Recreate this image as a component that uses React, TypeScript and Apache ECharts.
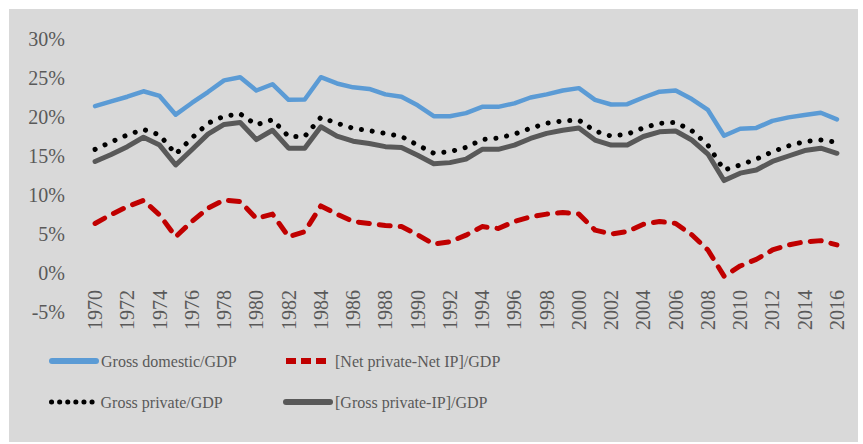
import React, { useEffect, useRef } from "react";
import * as echarts from "echarts";

const years: string[] = [];
for (let y = 1970; y <= 2016; y++) years.push(String(y));

const grossDomestic = [
  21.4, 22.0, 22.6, 23.3, 22.7, 20.3, 21.8, 23.2, 24.7, 25.1,
  23.4, 24.2, 22.2, 22.25, 25.1, 24.3, 23.8, 23.6, 22.9, 22.6,
  21.5, 20.1, 20.1, 20.5, 21.3, 21.3, 21.75, 22.5, 22.9, 23.4,
  23.7, 22.2, 21.6, 21.65, 22.5, 23.25, 23.4, 22.3, 20.9, 17.6,
  18.5, 18.6, 19.5, 19.95, 20.25, 20.55, 19.7,
];

const netPrivateNetIP = [
  6.35, 7.5, 8.5, 9.3, 7.45, 4.65, 6.6, 8.3, 9.35, 9.15,
  7.0, 7.55, 4.65, 5.3, 8.6, 7.55, 6.6, 6.35, 6.1, 5.95,
  4.9, 3.7, 4.0, 4.85, 5.95, 5.7, 6.6, 7.2, 7.55, 7.75,
  7.55, 5.5, 5.0, 5.3, 6.25, 6.6, 6.35, 4.9, 2.95, -0.4,
  0.9, 1.75, 2.95, 3.6, 4.0, 4.15, 3.6,
];

const grossPrivate = [
  15.85, 16.8, 17.7, 18.4, 17.7, 15.25, 17.3, 19.2, 20.1, 20.4,
  19.0, 19.65, 17.5, 17.5, 19.95, 19.2, 18.55, 18.25, 17.9, 17.5,
  16.4, 15.35, 15.55, 16.1, 17.1, 17.3, 17.8, 18.55, 19.2, 19.5,
  19.6, 18.2, 17.55, 17.8, 18.6, 19.2, 19.3, 18.25, 16.4, 13.2,
  13.85, 14.6, 15.55, 16.3, 16.85, 17.05, 16.75,
];

const grossPrivateIP = [
  14.3, 15.2, 16.2, 17.4, 16.4, 13.85, 15.8, 17.8, 19.05, 19.3,
  17.1, 18.3, 16.0, 16.0, 18.75, 17.55, 16.9, 16.6, 16.2, 16.1,
  15.1, 14.0, 14.15, 14.6, 15.85, 15.85, 16.4, 17.25, 17.9, 18.3,
  18.6, 17.05, 16.4, 16.4, 17.5, 18.1, 18.2, 17.05, 15.25, 11.85,
  12.8, 13.2, 14.3, 15.0, 15.7, 16.0, 15.35,
];

const seriesNames = [
  "Gross domestic/GDP",
  "[Net private-Net IP]/GDP",
  "Gross private/GDP",
  "[Gross private-IP]/GDP",
];

const FONT = "'Liberation Serif', 'Times New Roman', serif";
const TXT = "#595959";

export default function App() {
  const ref = useRef<HTMLDivElement>(null);
  useEffect(() => {
    if (!ref.current) return;
    const chart = echarts.init(ref.current, null, { renderer: "svg" });
    const legendBase = {
      orient: "horizontal",
      padding: 0,
      itemWidth: 44,
      itemHeight: 14,
      itemGap: 0,
      itemStyle: { opacity: 0 },
      textStyle: { fontFamily: FONT, fontSize: 16, color: TXT },
    };
    chart.setOption({
      animation: false,
      backgroundColor: "#ffffff",
      graphic: [
        {
          type: "rect",
          z: -10,
          silent: true,
          shape: { x: 9, y: 9, width: 849, height: 433 },
          style: { fill: "#D9D9D9" },
        },
      ],
      grid: { left: 87, right: 18, top: 39, bottom: 132, containLabel: false },
      legend: [
        {
          ...legendBase,
          data: [seriesNames[0]],
          left: 49,
          top: 353,
          lineStyle: { width: 6, cap: "round" },
        },
        {
          ...legendBase,
          data: [seriesNames[1]],
          left: 283,
          top: 353,
          lineStyle: { width: 6, type: [10, 5], cap: "butt" },
        },
        {
          ...legendBase,
          data: [seriesNames[2]],
          left: 49,
          top: 394,
          lineStyle: { width: 5, type: [0.1, 8], cap: "round" },
        },
        {
          ...legendBase,
          data: [seriesNames[3]],
          left: 283,
          top: 394,
          lineStyle: { width: 6, cap: "round" },
        },
      ],
      xAxis: {
        type: "category",
        data: years,
        boundaryGap: true,
        offset: -39,
        axisLine: { show: false, onZero: false },
        axisTick: { show: false },
        splitLine: { show: false },
        axisLabel: {
          rotate: 90,
          interval: 1,
          margin: 17,
          fontFamily: FONT,
          fontSize: 20,
          color: TXT,
        },
      },
      yAxis: {
        type: "value",
        min: -5,
        max: 30,
        interval: 5,
        axisLine: { show: false },
        axisTick: { show: false },
        splitLine: { show: false },
        axisLabel: {
          formatter: "{value}%",
          margin: 22,
          fontFamily: FONT,
          fontSize: 20,
          color: TXT,
        },
      },
      series: [
        {
          name: seriesNames[0],
          type: "line",
          data: grossDomestic,
          symbol: "none",
          lineStyle: { color: "#5B9BD5", width: 4.5, cap: "round", join: "round" },
          itemStyle: { color: "#5B9BD5" },
        },
        {
          name: seriesNames[1],
          type: "line",
          data: netPrivateNetIP,
          symbol: "none",
          lineStyle: {
            color: "#C00000",
            width: 5,
            type: [11, 10],
            cap: "round",
            join: "round",
          },
          itemStyle: { color: "#C00000" },
        },
        {
          name: seriesNames[2],
          type: "line",
          data: grossPrivate,
          symbol: "none",
          lineStyle: {
            color: "#000000",
            width: 5,
            type: [0.1, 10.8],
            cap: "round",
            join: "round",
          },
          itemStyle: { color: "#000000" },
        },
        {
          name: seriesNames[3],
          type: "line",
          data: grossPrivateIP,
          symbol: "none",
          lineStyle: { color: "#595959", width: 5, cap: "round", join: "round" },
          itemStyle: { color: "#595959" },
        },
      ],
    });
    return () => chart.dispose();
  }, []);
  return (
    <div
      ref={ref}
      style={{ position: "absolute", left: 0, top: 0, width: 863, height: 444 }}
    />
  );
}
